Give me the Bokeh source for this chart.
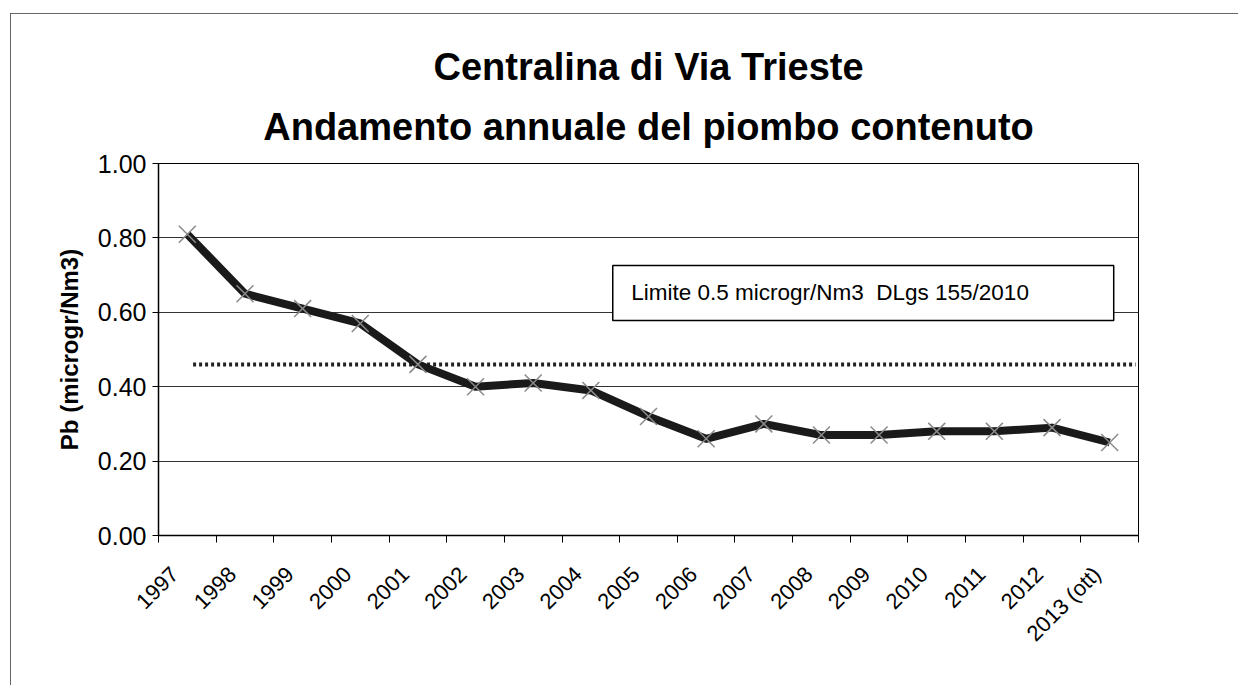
import numpy as np
from math import pi
from bokeh.plotting import figure
from bokeh.models import (Range1d, FixedTicker, NumeralTickFormatter, CustomJSTickFormatter,
                          Title, BoxAnnotation, Label)
from bokeh.embed import file_html
from bokeh.resources import INLINE

# ---- data ----
years = ["1997", "1998", "1999", "2000", "2001", "2002", "2003", "2004", "2005",
         "2006", "2007", "2008", "2009", "2010", "2011", "2012", "2013 (ott)"]
pb = [0.81, 0.65, 0.61, 0.57, 0.46, 0.40, 0.41, 0.39, 0.32,
      0.26, 0.30, 0.27, 0.27, 0.28, 0.28, 0.29, 0.25]
limit_value = 0.46
y_ticks = [0.0, 0.2, 0.4, 0.6, 0.8, 1.0]
title_line1 = "Centralina di Via Trieste"
title_line2 = "Andamento annuale del piombo contenuto"
y_label = "Pb (microgr/Nm3)"
box_text = "Limite 0.5 microgr/Nm3\u00a0 DLgs 155/2010"

xs = np.arange(len(years)) + 0.5
bounds = list(range(len(years) + 1))

FONT = "Liberation Sans"

p = figure(frame_width=980, frame_height=372,
           x_range=Range1d(0, len(years)), y_range=Range1d(0, 1),
           output_backend="svg", toolbar_location=None, title=None,
           min_border_left=147, min_border_right=100, min_border_top=149, min_border_bottom=150)

p.styles = {"margin-left": "10px", "margin-top": "13px",
            "border-top": "1px solid #666", "border-left": "1px solid #666"}
p.background_fill_color = "white"
p.border_fill_color = "white"
p.outline_line_color = "black"
p.outline_line_width = 1

# titles
t2 = Title(text=title_line2, align="center", text_font=FONT, text_font_size="38px",
           text_font_style="bold", text_color="black", offset=-20, standoff=32,
           text_line_height=0.85)
t1 = Title(text=title_line1, align="center", text_font=FONT, text_font_size="38px",
           text_font_style="bold", text_color="black", offset=-16, standoff=0,
           text_line_height=0.85)
p.add_layout(t2, "above")
p.add_layout(t1, "above")

# y axis
p.yaxis.ticker = FixedTicker(ticks=y_ticks)
p.yaxis.formatter = NumeralTickFormatter(format="0.00")
p.yaxis.axis_label = y_label
p.yaxis.axis_label_text_font = FONT
p.yaxis.axis_label_text_font_size = "24px"
p.yaxis.axis_label_text_font_style = "bold"
p.yaxis.axis_label_text_color = "black"
p.yaxis.axis_label_standoff = 12
p.yaxis.major_label_text_font = FONT
p.yaxis.major_label_text_font_size = "25px"
p.yaxis.major_label_text_color = "black"
p.yaxis.major_tick_out = 6
p.yaxis.major_tick_in = 0
p.yaxis.major_label_standoff = 6
p.yaxis.minor_tick_line_color = None
p.yaxis.axis_line_color = "black"
p.yaxis.axis_line_width = 1.5
p.yaxis.major_tick_line_color = "black"

# x axis: labels a bit left of the category centres, ticks on category boundaries
p.xaxis.ticker = FixedTicker(ticks=list(xs - 0.22), minor_ticks=bounds)
p.xaxis.formatter = CustomJSTickFormatter(args=dict(labels=years),
                                          code="return labels[Math.floor(tick)];")
p.xaxis.major_label_orientation = pi / 4
p.xaxis.major_label_text_font = FONT
p.xaxis.major_label_text_font_size = "22px"
p.xaxis.major_label_text_color = "black"
p.xaxis.major_tick_line_color = None
p.xaxis.major_tick_out = 0
p.xaxis.major_tick_in = 0
p.xaxis.major_label_standoff = 28
p.xaxis.minor_tick_out = 7
p.xaxis.minor_tick_in = 0
p.xaxis.minor_tick_line_color = "black"
p.xaxis.axis_line_color = "black"
p.xaxis.axis_line_width = 1.5

# grid
p.xgrid.grid_line_color = None
p.ygrid.ticker = FixedTicker(ticks=y_ticks)
p.ygrid.grid_line_color = "#333333"
p.ygrid.grid_line_width = 1

# limit line (dotted)
p.line(x=[xs[0] + 0.1, len(years) - 0.05], y=[limit_value, limit_value], line_color="#222222",
       line_width=4, line_dash="3 3")

# data line + markers
p.line(x=xs, y=pb, line_color="#1a1a1a", line_width=8, line_join="round")
p.scatter(x=xs, y=pb, marker="x", size=24, line_color="#8a8a8a", line_width=1.5)

# text box
box = BoxAnnotation(left=7.88, right=16.57, bottom=0.578, top=0.726,
                    fill_color="white", fill_alpha=1.0, line_color="black",
                    line_width=1.5, line_alpha=1.0)
p.add_layout(box)
lab = Label(x=8.2, y=0.652, text=box_text, text_font=FONT, text_font_size="22.5px",
            text_baseline="middle", text_color="black")
p.add_layout(lab)

open("out.html", "w").write(file_html(p, INLINE))
